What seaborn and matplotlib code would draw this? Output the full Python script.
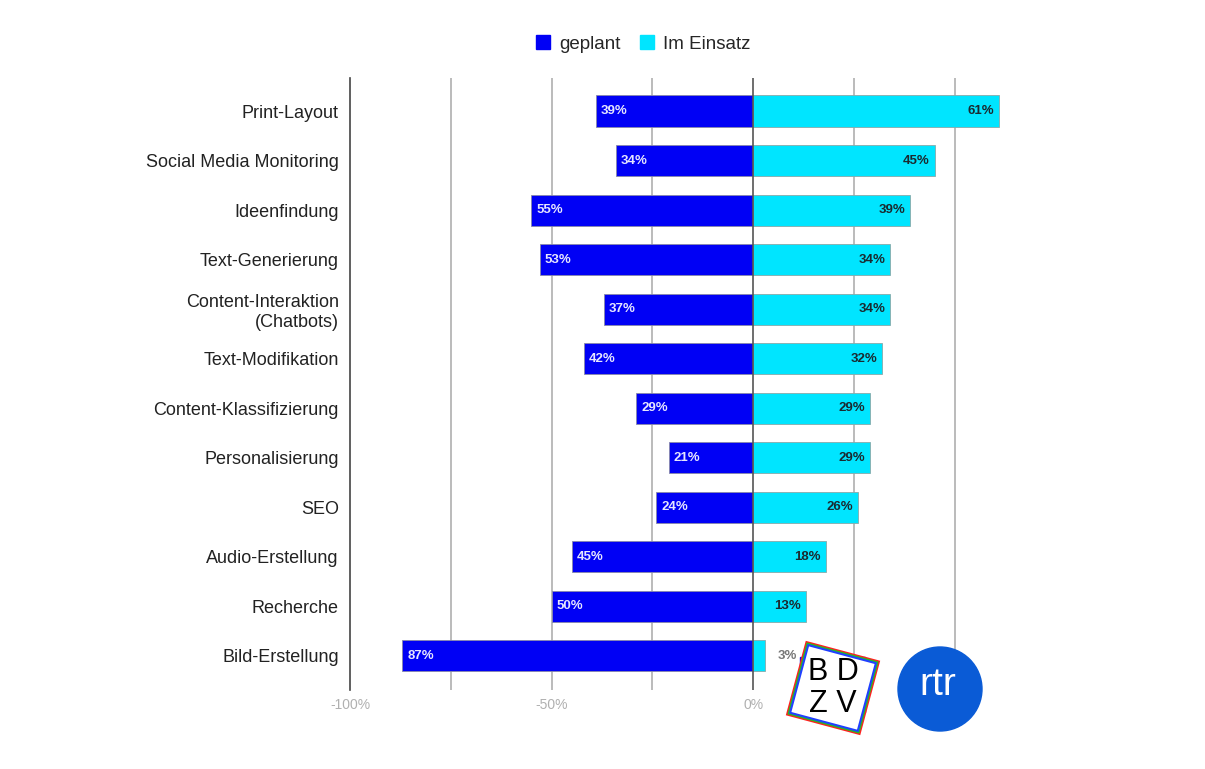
import numpy as np
import pandas as pd
import matplotlib
matplotlib.use("Agg")
import matplotlib.pyplot as plt
import matplotlib.patches as mpatches
from matplotlib.transforms import Affine2D, IdentityTransform
import seaborn as sns

categories = ["Print-Layout", "Social Media Monitoring", "Ideenfindung", "Text-Generierung",
              "Content-Interaktion\n(Chatbots)", "Text-Modifikation", "Content-Klassifizierung",
              "Personalisierung", "SEO", "Audio-Erstellung", "Recherche", "Bild-Erstellung"]
geplant = [39, 34, 55, 53, 37, 42, 29, 21, 24, 45, 50, 87]
im_einsatz = [61, 45, 39, 34, 34, 32, 29, 29, 26, 18, 13, 3]
x_ticks = [-100, -50, 0, 50]
x_tick_labels = ["-100%", "-50%", "0%", "50%"]

BLUE = "#0000F5"
CYAN = "#00E5FF"

df = pd.DataFrame({"Kategorie": categories,
                   "geplant": [-v for v in geplant],
                   "Im Einsatz": im_einsatz})

sns.set_theme(style="white")
plt.rcParams['font.family'] = ['Liberation Sans', 'DejaVu Sans']

fig = plt.figure(figsize=(12.05, 7.69), dpi=100)
ax = fig.add_axes([0.2905, 0.1027, 0.552, 0.796])

# gridlines behind bars
for g in [-75, -50, -25, 25, 50]:
    ax.axvline(g, color="#b5b5b5", lw=1.3, zorder=0)

sns.barplot(data=df, y="Kategorie", x="geplant", color=BLUE, orient="h", ax=ax,
            width=0.63, edgecolor="#8888aa", linewidth=0.6, saturation=1, zorder=2)
sns.barplot(data=df, y="Kategorie", x="Im Einsatz", color=CYAN, orient="h", ax=ax,
            width=0.63, edgecolor="#88aaaa", linewidth=0.6, saturation=1, zorder=2)

ax.axvline(0, color="#555555", lw=1.2, zorder=3)

# value labels
for i, (g, e) in enumerate(zip(geplant, im_einsatz)):
    ax.text(-g + 1.2, i, f"{g}%", color="#e6e6ff", fontsize=9.5, fontweight="bold",
            va="center", ha="left", zorder=4)
    if e >= 10:
        ax.text(e - 1.2, i, f"{e}%", color="#1a2a30", fontsize=9.5, fontweight="bold",
                va="center", ha="right", zorder=4)
    else:
        ax.text(e + 3, i, f"{e}%", color="#777777", fontsize=9.5, fontweight="bold",
                va="center", ha="left", zorder=4)

ax.set_xlim(-100, 65)
ax.set_ylim(len(categories) - 1 + 0.69, -0.67)
ax.set_xticks(x_ticks)
ax.set_xticklabels(x_tick_labels, color="#b0b0b0", fontsize=10)
ax.tick_params(axis="x", length=0, pad=6)
ax.tick_params(axis="y", length=0, pad=8, labelsize=13, labelcolor="#222222")
ax.set_xlabel("")
ax.set_ylabel("")
for s in ["top", "right", "bottom"]:
    ax.spines[s].set_visible(False)
ax.spines["left"].set_color("#444444")
ax.spines["left"].set_linewidth(1.2)

# legend
handles = [mpatches.Patch(color=BLUE, label="geplant"),
           mpatches.Patch(color=CYAN, label="Im Einsatz")]
fig.legend(handles=handles, loc="center", bbox_to_anchor=(0.534, 0.943), ncol=2,
           frameon=False, fontsize=13.5, handlelength=0.75, handleheight=0.75,
           handletextpad=0.5, columnspacing=1.0)

# logos (simplified)
fig.patches.append(mpatches.Rectangle((800 / 1205, 1 - 712 / 769), 65 / 1205, 55 / 769,
                                      transform=fig.transFigure, color="#1010ee", zorder=5))
for col, off in [("#ff2020", 2.5), ("#20c020", 1.2), ("#2040ff", 0)]:
    sq = mpatches.Rectangle((-35 - off, -35 - off), 70 + 2 * off, 70 + 2 * off,
                            facecolor="white" if off == 0 else "none",
                            edgecolor=col, lw=1.5, zorder=6)
    sq.set_transform(Affine2D().rotate_deg(-15).translate(833, 769 - 688) + IdentityTransform())
    fig.patches.append(sq)
fig.text(833 / 1205, 1 - 672 / 769, "B D", ha="center", va="center", fontsize=22,
         color="black", zorder=7)
fig.text(833 / 1205, 1 - 704 / 769, "Z V", ha="center", va="center", fontsize=22,
         color="black", zorder=7)
circ = mpatches.Ellipse((940 / 1205, 1 - 689 / 769), 84 / 1205, 84 / 769,
                        transform=fig.transFigure, color="#0a5bd6", zorder=5)
fig.patches.append(circ)
fig.text(938 / 1205, 1 - 685 / 769, "rtr", ha="center", va="center", fontsize=28,
         color="white", zorder=7)

fig.savefig("out.png", dpi=100)
